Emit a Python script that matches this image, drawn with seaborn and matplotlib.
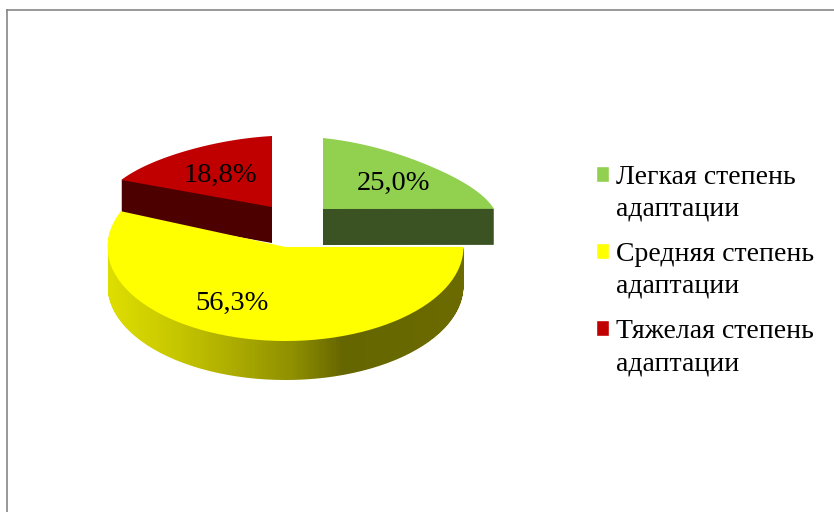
# plot.py
# -*- coding: utf-8 -*-
import numpy as np
import matplotlib
matplotlib.use("Agg")
import matplotlib.pyplot as plt
import seaborn as sns
from matplotlib.colors import LinearSegmentedColormap
from matplotlib.path import Path
from matplotlib.patches import PathPatch
from matplotlib.transforms import Affine2D

categories = ['Легкая степень\nадаптации', 'Средняя степень\nадаптации', 'Тяжелая степень\nадаптации']
values = [25.0, 56.3, 18.8]
colors = ['#92d050', '#ffff00', '#c00000']
wall_colors = ['#3b5323', None, '#4d0000']
wall_stops = [(0.0, '#dede00'), (0.18, '#c8c800'), (0.33, '#b0b000'), (0.52, '#8f8f00'),
              (0.66, '#666600'), (1.0, '#6b6b00')]

# центр и радиусы каждого сектора на картинке (cx, cy, rx, ry, глубина, уплощение дуги)
geometry = [(323, 209, 171, 71, 36, 0.13), (285.5, 247, 178, 94, 39, 0.0), (272, 207, 163, 71, 36, 0.05)]
label_xy = [(394, 183), (232, 303), (220, 175)]
draw_order = [2, 0, 1]

sns.set_theme(style='white')
plt.rcParams['font.family'] = ['Liberation Serif', 'DejaVu Serif']

fig = plt.figure(figsize=(8.34, 5.12), dpi=100)
ax = fig.add_axes([7 / 834, 0, 827 / 834, 502 / 512])

wedges, _ = ax.pie(values, colors=colors, startangle=90, counterclock=False)
for order, i in enumerate(draw_order):
    wedge = wedges[i]
    cx, cy, rx, ry, depth, flat = geometry[i]

    # перспектива: дальняя дуга сектора чуть площе обычного эллипса
    unit = wedge.get_path().to_polygons(Affine2D().scale(400))[0] / 400
    angle = np.degrees(np.arctan2(unit[:, 1], unit[:, 0]))
    pos = np.clip(((angle - wedge.theta1) % 360) / (wedge.theta2 - wedge.theta1), 0, 1)
    warped = unit * (1 - flat * np.sin(np.pi * pos))[:, None]
    top = Affine2D().scale(rx, -ry).translate(cx, cy)
    face = Path(top.transform(warped))
    ax.add_patch(PathPatch(face, facecolor=colors[i], edgecolor='none', zorder=2 * order + 2))

    # боковая стенка: верхняя грань, сдвинутая вниз слоями
    layers = [face.transformed(Affine2D().translate(0, d)) for d in range(1, depth + 1)]
    wall = Path.make_compound_path(*layers)
    if wall_colors[i] is not None:
        ax.add_patch(PathPatch(wall, facecolor=wall_colors[i], edgecolor='none', zorder=2 * order + 1))
    else:
        cmap = LinearSegmentedColormap.from_list('wall', wall_stops)
        grad = np.linspace(0, 1, 356).reshape(1, -1)
        im = ax.imshow(grad, cmap=cmap, aspect='auto', extent=(cx - rx, cx + rx, 512, 100),
                       zorder=2 * order + 1)
        im.set_clip_path(wall, transform=ax.transData)

for (x, y), v in zip(label_xy, values):
    ax.text(x, y, f'{v:.1f}%'.replace('.', ','), fontsize=20.5, color='black',
            ha='center', va='center', zorder=10)

ax.set_aspect('auto')
ax.set_xlim(7, 834)
ax.set_ylim(512, 10)
ax.set_xticks([])
ax.set_yticks([])
ax.set_frame_on(True)
for side in ['right', 'bottom']:
    ax.spines[side].set_visible(False)
for side in ['top', 'left']:
    ax.spines[side].set_visible(True)
    ax.spines[side].set_color('#868686')
    ax.spines[side].set_linewidth(1.2)

leg = ax.legend(wedges, categories, loc='upper left', bbox_to_anchor=(595.6, 165),
                bbox_transform=ax.transData, frameon=False, fontsize=20, labelspacing=0.73,
                handlelength=0.5, handleheight=0.5, handletextpad=0.25, borderpad=0, borderaxespad=0,
                labelcolor='black')
for t in leg.get_texts():
    t.set_linespacing(1.36)
# маркер стоит напротив первой строки подписи
for h in leg.legend_handles:
    h.set_y(h.get_y() + 14)

# круг из pie нужен только для углов и легенды, видны уплощённые грани
for wedge in wedges:
    wedge.set_visible(False)

fig.savefig('out.png', dpi=100)
